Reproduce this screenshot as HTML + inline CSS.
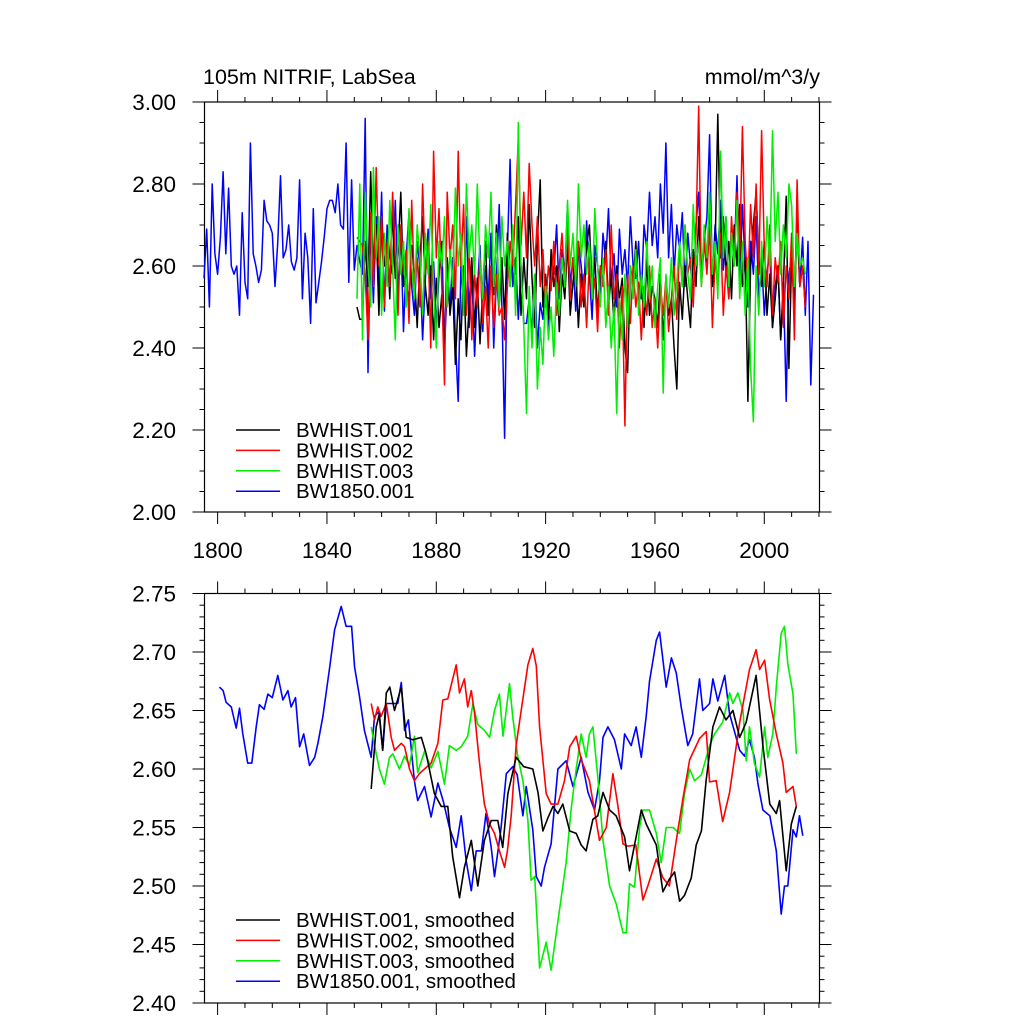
<!DOCTYPE html>
<html><head><meta charset="utf-8"><style>
html,body{margin:0;padding:0;background:#fff;}
svg{display:block;font-family:"Liberation Sans",Arial,sans-serif;}
</style></head><body>
<svg id="chart" width="1024" height="1024" viewBox="0 0 1024 1024">
<rect width="1024" height="1024" fill="#fff"/>
<text x="203" y="84" font-size="21.5">105m NITRIF, LabSea</text>
<text x="820" y="84" font-size="21.5" text-anchor="end">mmol/m^3/y</text>
</svg>
<script>
// ---- data ----
const blueStart = 1795;
const blueVals = [2.57,2.69,2.50,2.80,2.63,2.58,2.67,2.83,2.63,2.79,2.60,2.58,2.60,2.48,2.73,2.56,2.52,2.90,2.63,2.60,2.56,2.59,2.76,2.71,2.70,2.68,2.55,2.66,2.82,2.62,2.64,2.70,2.61,2.59,2.62,2.81,2.52,2.68,2.62,2.46,2.74,2.51,2.56,2.61,2.67,2.74,2.76,2.76,2.73,2.80,2.70,2.69,2.90,2.56,2.81,2.59,2.65,2.61,
2.58,2.96,2.34,2.70,2.51,2.72,2.55,2.78,2.49,2.70,2.62,2.58,2.76,2.53,2.68,2.44,2.62,2.73,2.55,2.48,2.66,2.60,2.42,2.57,2.69,2.52,2.61,2.45,2.58,2.66,2.40,2.55,2.50,2.62,2.42,2.27,2.60,2.51,2.72,2.45,2.58,2.38,2.54,2.65,2.44,2.60,2.52,2.68,2.40,2.57,2.75,2.50,2.18,2.64,2.86,2.55,2.62,2.47,2.60,2.46,2.46,2.52,2.44,2.58,2.40,2.51,2.47,2.56,2.45,2.62,2.58,2.70,2.52,2.64,2.58,2.75,2.55,2.62,2.49,2.66,2.60,2.53,2.71,2.58,2.47,2.65,2.60,2.53,2.68,2.61,2.74,2.56,2.63,2.50,2.69,2.58,2.64,2.55,2.72,2.60,2.57,2.66,2.52,2.70,2.64,2.78,2.65,2.72,2.62,2.80,2.68,2.90,2.62,2.75,2.58,2.70,2.64,2.73,2.55,2.68,2.60,2.52,2.70,2.78,2.58,2.66,2.72,2.92,2.55,2.70,2.63,2.76,2.59,2.72,2.52,2.68,2.62,2.82,2.55,2.75,2.60,2.50,2.66,2.58,2.72,2.52,2.62,2.48,2.58,2.64,2.45,2.55,2.60,2.42,2.56,2.27,2.58,2.62,2.50,2.74,2.55,2.67,2.48,2.66,2.31,2.53];
const histStart = 1851;
const blackVals = [2.50,2.47,2.47,2.66,2.55,2.83,2.58,2.70,2.48,2.72,2.60,2.66,2.52,2.74,2.57,2.63,2.78,2.55,2.60,2.50,2.65,2.58,2.45,2.62,2.72,2.55,2.48,2.60,2.42,2.57,2.45,2.53,2.40,2.62,2.48,2.55,2.36,2.52,2.42,2.60,2.38,2.50,2.62,2.45,2.57,2.41,2.55,2.66,2.48,2.59,2.53,2.70,2.50,2.62,2.47,2.68,2.55,2.64,2.58,2.72,2.48,2.62,2.52,2.75,2.57,2.45,2.66,2.81,2.50,2.58,2.47,2.64,2.55,2.60,2.44,2.58,2.52,2.66,2.48,2.56,2.60,2.45,2.58,2.50,2.65,2.70,2.55,2.62,2.48,2.60,2.56,2.66,2.50,2.58,2.46,2.60,2.52,2.57,2.40,2.34,2.60,2.55,2.66,2.50,2.58,2.45,2.62,2.48,2.55,2.52,2.45,2.58,2.42,2.55,2.48,2.52,2.40,2.30,2.56,2.47,2.60,2.52,2.45,2.64,2.55,2.72,2.58,2.66,2.60,2.75,2.55,2.64,2.97,2.62,2.72,2.58,2.66,2.52,2.70,2.60,2.75,2.55,2.62,2.27,2.60,2.70,2.78,2.62,2.55,2.66,2.48,2.58,2.45,2.52,2.60,2.42,2.55,2.77,2.35,2.62,2.50,2.70,2.55,2.60,2.50];
const redVals = [2.67,2.66,2.65,2.58,2.42,2.73,2.55,2.84,2.60,2.72,2.50,2.66,2.55,2.78,2.62,2.48,2.70,2.58,2.64,2.46,2.76,2.55,2.62,2.50,2.80,2.58,2.66,2.40,2.88,2.62,2.74,2.55,2.31,2.78,2.62,2.70,2.52,2.88,2.60,2.75,2.48,2.65,2.42,2.58,2.50,2.62,2.46,2.55,2.40,2.60,2.45,2.58,2.48,2.50,2.42,2.55,2.66,2.60,2.75,2.91,2.65,2.78,2.62,2.85,2.70,2.60,2.72,2.55,2.64,2.50,2.60,2.54,2.66,2.48,2.60,2.68,2.55,2.70,2.52,2.62,2.57,2.66,2.50,2.58,2.45,2.62,2.52,2.57,2.44,2.60,2.55,2.64,2.48,2.70,2.52,2.58,2.40,2.55,2.21,2.58,2.46,2.60,2.50,2.56,2.42,2.55,2.48,2.60,2.45,2.52,2.40,2.55,2.48,2.57,2.44,2.52,2.60,2.47,2.65,2.55,2.70,2.58,2.62,2.50,2.68,2.99,2.55,2.66,2.58,2.70,2.45,2.62,2.55,2.68,2.48,2.60,2.52,2.72,2.60,2.78,2.62,2.94,2.66,2.55,2.75,2.62,2.80,2.58,2.93,2.64,2.55,2.70,2.48,2.62,2.56,2.66,2.45,2.60,2.52,2.68,2.42,2.81,2.55,2.60,2.50];
const greenVals = [2.52,2.80,2.42,2.78,2.60,2.50,2.84,2.62,2.72,2.48,2.68,2.55,2.76,2.60,2.42,2.70,2.58,2.66,2.50,2.74,2.60,2.52,2.70,2.62,2.48,2.68,2.58,2.75,2.55,2.40,2.66,2.60,2.72,2.50,2.64,2.55,2.79,2.60,2.68,2.48,2.80,2.62,2.70,2.58,2.80,2.60,2.52,2.70,2.62,2.78,2.55,2.68,2.50,2.72,2.60,2.66,2.55,2.70,2.48,2.95,2.60,2.45,2.24,2.55,2.40,2.58,2.30,2.45,2.36,2.55,2.42,2.50,2.38,2.56,2.48,2.62,2.55,2.76,2.60,2.68,2.55,2.80,2.62,2.70,2.58,2.66,2.52,2.74,2.60,2.50,2.62,2.45,2.55,2.40,2.50,2.24,2.52,2.42,2.58,2.45,2.60,2.52,2.64,2.48,2.58,2.50,2.66,2.52,2.60,2.45,2.55,2.62,2.29,2.58,2.50,2.62,2.48,2.56,2.66,2.55,2.70,2.58,2.52,2.75,2.60,2.66,2.55,2.70,2.62,2.78,2.58,2.66,2.52,2.88,2.62,2.72,2.55,2.68,2.60,2.76,2.52,2.66,2.48,2.62,2.35,2.22,2.60,2.48,2.66,2.55,2.72,2.60,2.93,2.66,2.78,2.58,2.70,2.62,2.80,2.75,2.55,2.68,2.60,2.62,2.58];

// smoothed series: [years], [values]
const sBlueYears = [1800.7,1802,1803.1,1805,1806.8,1808,1809.2,1811,1812.5,1814.1,1815.3,1817,1818.4,1820,1822,1823.9,1825.7,1826.9,1828.5,1830,1831.5,1833.6,1835.5,1836.7,1838.5,1841,1842.8,1845.2,1847,1849,1850.1,1851.9,1853.7,1856.2,1857.4,1859,1860.4,1861.7,1863.5,1865.9,1867.2,1868.4,1869.8,1872,1873.2,1875.7,1878.1,1880.6,1882.5,1884.8,1887.3,1889.1,1890.9,1892.8,1894.6,1896.5,1898.2,1900.1,1901.3,1903.7,1905.6,1908,1909.6,1911.7,1912.9,1915.3,1916.6,1918.4,1919.6,1922,1924.5,1927.5,1930,1933,1935.5,1937.9,1939.7,1941,1942.8,1945.2,1947.7,1948.9,1951.3,1953.1,1955,1956.8,1958,1960.5,1961.7,1964.1,1966,1967.8,1969.6,1972,1973.8,1976.3,1977.5,1980,1981.2,1983,1985.5,1987.3,1991,1992.8,1994.6,1996.4,1997.7,1999.5,2002,2004.4,2006.2,2007.4,2008.6,2010.5,2011.7,2012.9,2014.1];
const sBlueVals = [2.670,2.667,2.657,2.653,2.635,2.652,2.630,2.605,2.605,2.636,2.655,2.651,2.664,2.661,2.680,2.659,2.667,2.653,2.661,2.619,2.630,2.603,2.610,2.622,2.645,2.687,2.719,2.739,2.722,2.722,2.687,2.662,2.633,2.610,2.645,2.649,2.616,2.656,2.656,2.656,2.674,2.633,2.642,2.590,2.573,2.585,2.559,2.588,2.573,2.550,2.533,2.560,2.522,2.496,2.530,2.530,2.562,2.533,2.508,2.550,2.596,2.602,2.595,2.560,2.585,2.548,2.508,2.500,2.516,2.536,2.600,2.607,2.585,2.610,2.580,2.565,2.590,2.627,2.636,2.625,2.600,2.630,2.620,2.636,2.610,2.645,2.675,2.710,2.717,2.670,2.695,2.682,2.653,2.620,2.630,2.677,2.650,2.656,2.677,2.658,2.680,2.647,2.616,2.611,2.625,2.610,2.587,2.565,2.560,2.530,2.476,2.500,2.500,2.548,2.542,2.560,2.543];
const sBlackYears = [1856.2,1858,1859.2,1860.4,1861.7,1863,1864.7,1867.2,1869,1871.4,1874.5,1876.3,1879.3,1881.8,1884.2,1886,1888.5,1890.3,1892.8,1895.2,1897.6,1900.1,1902.5,1904.3,1906.2,1909.2,1912,1915.3,1917.2,1919,1920.8,1922.7,1924.5,1926.3,1928.8,1931.2,1933,1934.8,1937.3,1939.1,1941,1943.4,1945.8,1948.9,1950.7,1953.1,1955,1956.8,1960.5,1962.9,1965.3,1967.2,1969,1970.8,1973.3,1975.1,1977,1978.7,1981.2,1983.6,1986,1988.5,1991,1993.4,1997,1999.5,2002,2004.4,2005.6,2008,2009.9,2011.7];
const sBlackVals = [2.583,2.636,2.647,2.616,2.665,2.670,2.650,2.670,2.627,2.625,2.627,2.613,2.579,2.568,2.568,2.525,2.490,2.516,2.539,2.500,2.539,2.556,2.556,2.533,2.579,2.610,2.602,2.600,2.580,2.547,2.558,2.568,2.562,2.570,2.547,2.545,2.535,2.530,2.557,2.560,2.580,2.565,2.560,2.542,2.513,2.542,2.565,2.553,2.535,2.495,2.506,2.512,2.487,2.492,2.507,2.535,2.547,2.590,2.636,2.653,2.642,2.650,2.627,2.640,2.680,2.620,2.570,2.562,2.573,2.513,2.553,2.568];
const sRedYears = [1856.2,1857.4,1858.6,1859.8,1861.7,1863.5,1864.7,1867.2,1868.4,1870.2,1872,1873.8,1875.7,1878.1,1880.6,1882.4,1884.2,1887.3,1888.5,1890.3,1891.5,1892.8,1894,1895.8,1897.6,1899.5,1901.3,1903.1,1905,1906,1907.4,1909.2,1911.7,1913.5,1915.3,1916.6,1917.8,1920.2,1922,1924.5,1926.9,1928.8,1931.2,1933,1936,1939.7,1942.2,1944.6,1946.4,1948.3,1950,1953,1955.6,1957.4,1960.5,1962.9,1965.3,1967.8,1970.2,1972.7,1976.3,1978.8,1980,1982.4,1984.8,1987.3,1991,1994.6,1997,1998.3,2000.1,2001.9,2004.4,2006.8,2008,2010.5,2011.7];
const sRedVals = [2.656,2.642,2.653,2.645,2.656,2.627,2.616,2.622,2.619,2.600,2.590,2.596,2.600,2.605,2.622,2.659,2.660,2.689,2.665,2.677,2.653,2.667,2.647,2.605,2.570,2.553,2.545,2.530,2.516,2.530,2.560,2.620,2.660,2.689,2.703,2.688,2.636,2.579,2.570,2.570,2.590,2.619,2.628,2.608,2.590,2.539,2.550,2.596,2.569,2.536,2.534,2.535,2.488,2.500,2.523,2.507,2.500,2.539,2.574,2.608,2.626,2.632,2.589,2.590,2.555,2.580,2.640,2.685,2.702,2.685,2.693,2.660,2.630,2.605,2.580,2.585,2.568];
const sGreenYears = [1856.2,1857.4,1859.2,1861,1862.9,1864.1,1866.5,1868.4,1870.2,1872,1873.2,1875.7,1878.1,1880.6,1883,1884.8,1887.3,1889.1,1891.5,1893.4,1895.2,1897.6,1899.5,1901.3,1903.1,1904.4,1906.8,1908,1909.8,1911.7,1913.5,1914.7,1916,1917.8,1920.2,1922,1923.9,1925.7,1927.5,1929.4,1931.2,1933,1934.8,1936,1937.3,1939.1,1941,1943.4,1945.8,1948.3,1949.5,1950.7,1952.5,1954.4,1955.6,1958,1960.5,1962.3,1964.1,1966.6,1969,1970.8,1972.7,1974.5,1977,1980,1981.8,1984.8,1987.3,1988.5,1990.3,1992.2,1993.4,1994.6,1996.4,1998.3,2000.1,2001.3,2003.1,2004.4,2006.2,2007.4,2008.6,2010.5,2011.7];
const sGreenVals = [2.636,2.620,2.600,2.587,2.610,2.613,2.600,2.611,2.603,2.628,2.597,2.615,2.601,2.615,2.587,2.620,2.616,2.619,2.628,2.656,2.638,2.633,2.627,2.650,2.664,2.628,2.673,2.644,2.611,2.590,2.556,2.505,2.508,2.430,2.452,2.428,2.460,2.490,2.520,2.567,2.600,2.630,2.610,2.630,2.636,2.593,2.539,2.500,2.485,2.460,2.460,2.502,2.499,2.550,2.565,2.565,2.545,2.520,2.550,2.550,2.545,2.579,2.600,2.590,2.595,2.620,2.630,2.640,2.665,2.656,2.665,2.650,2.607,2.636,2.605,2.593,2.636,2.610,2.630,2.670,2.716,2.722,2.690,2.664,2.613];

const topYTicks = ["2.00","2.20","2.40","2.60","2.80","3.00"];
const botYTicks = ["2.40","2.45","2.50","2.55","2.60","2.65","2.70","2.75"];
const xTickLabels = ["1800","1840","1880","1920","1960","2000"];

// ---- layout ----
const svg = document.getElementById('chart');
const NS = 'http://www.w3.org/2000/svg';
const L = 204.5, R = 819.5;
const yr0 = 1795.2, yr1 = 2020.2;
function xs(y){ return L + (y - yr0) / (yr1 - yr0) * (R - L); }
const P1 = {top:102, bot:512, min:2.0, max:3.0};
const P2 = {top:593.5, bot:1003, min:2.40, max:2.75};
function ys(p, v){ return p.bot - (v - p.min) / (p.max - p.min) * (p.bot - p.top); }
function mk(tag, attrs){ const e = document.createElementNS(NS, tag); for (const k in attrs) e.setAttribute(k, attrs[k]); svg.appendChild(e); return e; }

function axes(p, name, majorStep, minorStep, yLabels, showX){
  const f = mk('rect', {x:L, y:p.top, width:R-L, height:p.bot-p.top, fill:'none', stroke:'#000', 'stroke-width':1.2});
  
  
  const nMin = Math.round((p.max - p.min) / minorStep);
  const ratio = Math.round(majorStep / minorStep);
  for (let i = 0; i <= nMin; i++){
    const v = p.min + i * minorStep, y = ys(p, v), major = (i % ratio === 0), len = major ? 12 : 5;
    mk('line', {x1:L-len, x2:L, y1:y, y2:y, stroke:'#000', 'stroke-width':1});
    mk('line', {x1:R, x2:R+len, y1:y, y2:y, stroke:'#000', 'stroke-width':1});
  }
  yLabels.forEach((lab, i) => {
    const t = mk('text', {x:176, y:ys(p, p.min + i*majorStep) + 8, 'font-size':22.5, 'text-anchor':'end'});
    t.textContent = lab;
    
    
  });
  for (let yr = 1800; yr <= 2020; yr += 10){
    const x = xs(yr), major = (yr % 40 === 0), len = major ? 12 : 5;
    mk('line', {x1:x, x2:x, y1:p.bot, y2:p.bot+len, stroke:'#000', 'stroke-width':1});
    mk('line', {x1:x, x2:x, y1:p.top-len, y2:p.top, stroke:'#000', 'stroke-width':1});
  }
  if (showX){
    xTickLabels.forEach(lab => {
      const t = mk('text', {x:xs(+lab), y:p.bot+46, 'font-size':22.5, 'text-anchor':'middle'});
      t.textContent = lab;
      
      
    });
  }
}
axes(P1, 'top-panel', 0.2, 0.05, topYTicks, true);
axes(P2, 'bottom-panel', 0.05, 0.01, botYTicks, false);

function annual(p, start, vals, color, name){
  const pts = vals.map((v, i) => xs(start + i).toFixed(1) + ',' + ys(p, v).toFixed(1)).join(' ');
  const e = mk('polyline', {points:pts, fill:'none', stroke:color, 'stroke-width':1.5, 'stroke-linejoin':'round'});
  
  
}
function smooth(p, years, vals, color, name){
  const pts = vals.map((v, i) => xs(years[i]).toFixed(1) + ',' + ys(p, v).toFixed(1)).join(' ');
  const e = mk('polyline', {points:pts, fill:'none', stroke:color, 'stroke-width':1.6, 'stroke-linejoin':'round'});
  
  
}
annual(P1, blueStart, blueVals, '#0000ff', 'bw1850-001-line');
annual(P1, histStart, blackVals, '#000000', 'bwhist-001-line');
annual(P1, histStart, redVals, '#ff0000', 'bwhist-002-line');
annual(P1, histStart, greenVals, '#00ee00', 'bwhist-003-line');
smooth(P2, sBlueYears, sBlueVals, '#0000ff', 'bw1850-001-smoothed-line');
smooth(P2, sGreenYears, sGreenVals, '#00ee00', 'bwhist-003-smoothed-line');
smooth(P2, sRedYears, sRedVals, '#ff0000', 'bwhist-002-smoothed-line');
smooth(P2, sBlackYears, sBlackVals, '#000000', 'bwhist-001-smoothed-line');

const legColors = ['#000000','#ff0000','#00ee00','#0000ff'];
const legTop = ['BWHIST.001','BWHIST.002','BWHIST.003','BW1850.001'];
const legBot = ['BWHIST.001, smoothed','BWHIST.002, smoothed','BWHIST.003, smoothed','BW1850.001, smoothed'];
function legend(labels, y0, name){
  labels.forEach((lab, i) => {
    const y = y0 + i * 20.4;
    const l = mk('line', {x1:236, x2:280, y1:y, y2:y, stroke:legColors[i], 'stroke-width':1.5});
    
    
    const t = mk('text', {x:296, y:y + 7, 'font-size':20.5});
    t.textContent = lab;
    
    
  });
}
legend(legTop, 430, 'top-legend');
legend(legBot, 920, 'bottom-legend');
</script>
</body></html>
